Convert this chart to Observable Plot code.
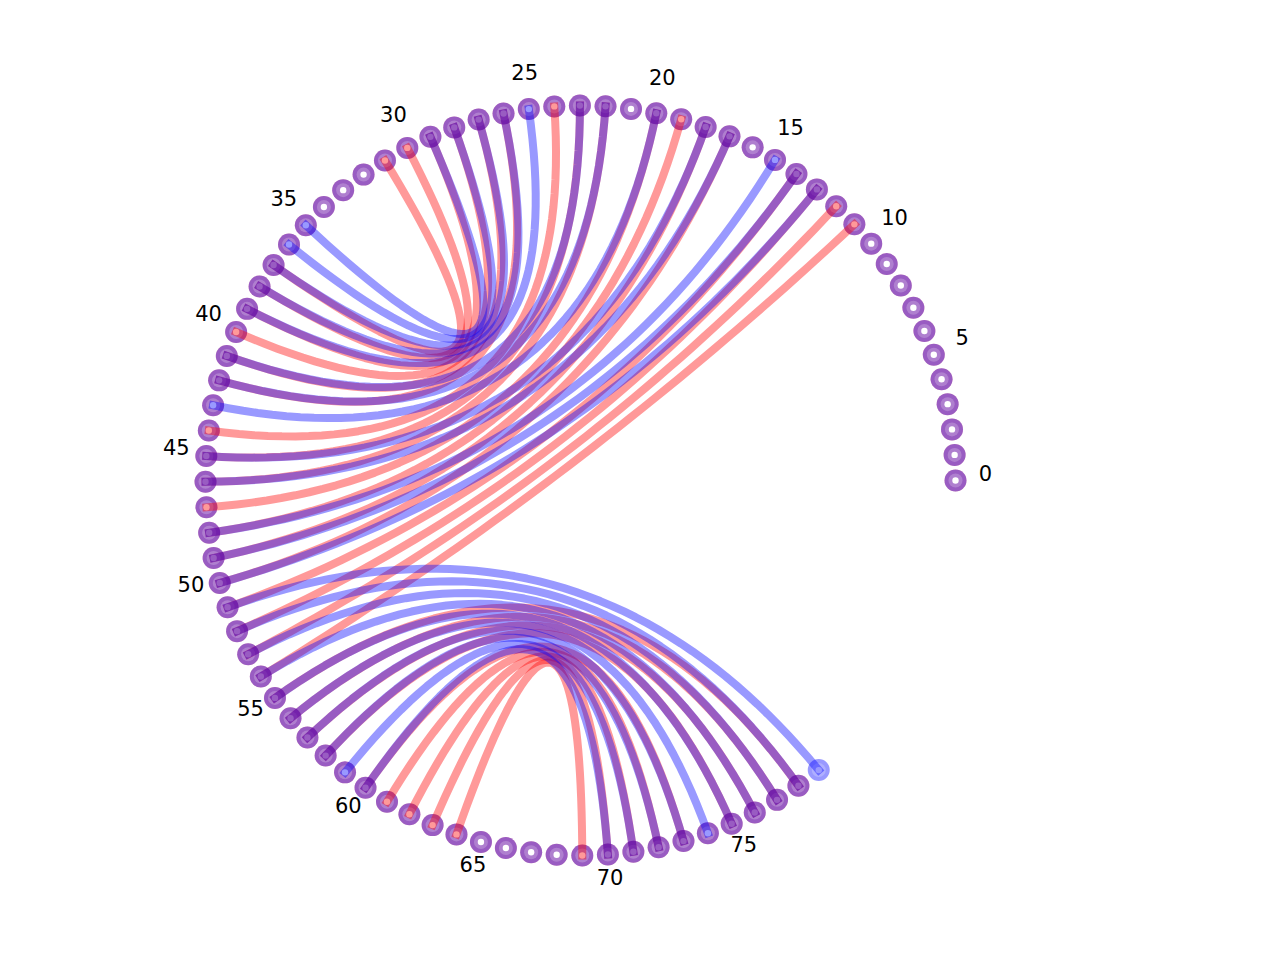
<!DOCTYPE html>
<html>
<head>
<meta charset="utf-8">
<script src="https://cdn.jsdelivr.net/npm/d3@7"></script>
<script src="https://cdn.jsdelivr.net/npm/@observablehq/plot@0.6"></script>
<style>
  html, body { margin: 0; padding: 0; overflow: hidden; background: #fff; }
  svg { display: block; }
</style>
</head>
<body>
<div id="chart"></div>
<script>
// ---- data ----
const redCount = 79;   // positions 0..78
const blueCount = 80;  // positions 0..79

const redPairs = [
  [11, 54], [12, 53], [13, 52], [14, 51], [17, 50], [18, 49], [19, 48], [20, 47],
  [22, 46], [23, 45], [24, 44], [26, 42], [27, 41], [28, 40], [29, 39], [30, 38], [31, 37],
  [55, 78], [56, 77], [57, 76], [58, 75], [60, 73], [61, 72], [62, 71], [63, 70], [64, 69]
];

const bluePairs = [
  [13, 50], [14, 49], [15, 48], [17, 46], [18, 45], [20, 43], [22, 42], [23, 41],
  [25, 39], [26, 38], [27, 37], [28, 36], [29, 35],
  [51, 79], [52, 78], [53, 77], [54, 76], [55, 75], [56, 74], [57, 73], [58, 72], [59, 71], [60, 70]
];

const tickLabels = [0, 5, 10, 15, 20, 25, 30, 35, 40, 45, 50, 55, 60, 65, 70, 75];

// ---- layout helpers ----
const step = 3.917 * Math.PI / 180;
const px = i => Math.cos(i * step);
const py = i => Math.sin(i * step);

const redNodes = d3.range(redCount);
const blueNodes = d3.range(blueCount);

// quadratic Bézier through the circle centre, sampled in data space
function arcs(pairs) {
  const out = [];
  pairs.forEach(([a, b], k) => {
    const ax = px(a), ay = py(a), bx = px(b), by = py(b);
    for (let s = 0; s <= 48; s++) {
      const t = s / 48, u = 1 - t;
      out.push({id: k, x: u * u * ax + t * t * bx, y: u * u * ay + t * t * by});
    }
  });
  return out;
}

const labelR = 405 / 375;

const chart = Plot.plot({
  width: 1280,
  height: 960,
  margin: 0,
  x: {domain: [-580 / 375, 700 / 375], range: [0, 1280], axis: null},
  y: {domain: [-480 / 375, 480 / 375], range: [960, 0], axis: null},
  marks: [
    Plot.dot(redNodes, {x: px, y: py, r: 11, fill: "red", fillOpacity: 0.4, stroke: "none"}),
    Plot.dot(blueNodes, {x: px, y: py, r: 11, fill: "blue", fillOpacity: 0.4, stroke: "none"}),
    Plot.dot(blueNodes, {x: px, y: py, r: 7, fill: "white", fillOpacity: 0.22, stroke: "none"}),
    Plot.dot(blueNodes, {x: px, y: py, r: 3.2, fill: "white", stroke: "none"}),
    Plot.line(arcs(redPairs), {x: "x", y: "y", z: "id", stroke: "red", strokeOpacity: 0.4, strokeWidth: 8, strokeLinecap: "square", curve: "linear"}),
    Plot.line(arcs(bluePairs), {x: "x", y: "y", z: "id", stroke: "blue", strokeOpacity: 0.4, strokeWidth: 8, strokeLinecap: "square", curve: "linear"}),
    Plot.text(tickLabels, {
      x: d => labelR * px(d), y: d => labelR * py(d), text: d => String(d),
      dy: -6, fontSize: 21, fill: "black", fontFamily: "DejaVu Sans"
    })
  ]
});
document.getElementById("chart").appendChild(chart);
</script>
</body>
</html>
